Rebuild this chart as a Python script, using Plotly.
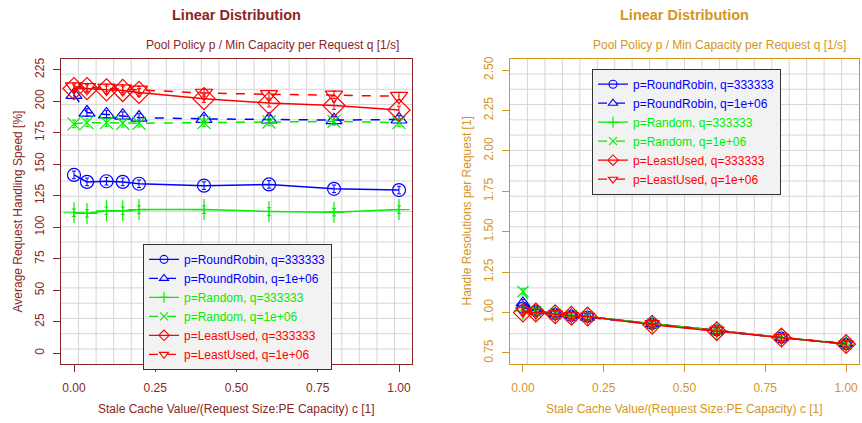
import plotly.graph_objects as go

# ---- data -------------------------------------------------------------
c_values = [0.0, 0.04, 0.1, 0.15, 0.2, 0.4, 0.6, 0.8, 1.0]

series_names = [
    "p=RoundRobin, q=333333",
    "p=RoundRobin, q=1e+06",
    "p=Random, q=333333",
    "p=Random, q=1e+06",
    "p=LeastUsed, q=333333",
    "p=LeastUsed, q=1e+06",
]

# Average request handling speed [%]
speed_rr_333333 = [141.5, 136, 136.5, 136, 134.5, 133, 134, 130.5, 129.5]
speed_rr_1e6 = [205, 191, 189.5, 188.5, 187, 186, 185.5, 185, 185.5]
speed_rand_333333 = [111.5, 111, 113, 113, 114, 114, 112.5, 112, 114]
speed_rand_1e6 = [182, 183, 183, 182.5, 182.5, 183, 183.5, 184, 183]
speed_lu_333333 = [210, 210, 209, 208.5, 207, 202, 198.5, 196.5, 193]
speed_lu_1e6 = [211.5, 211, 210.5, 210, 209, 206.5, 205.5, 205, 204]
speed_err = [3, 3, 3, 3, 3, 3, 3, 3, 3]

# Handle resolutions per request [1]
hres_rr_333333 = [1.03, 1.01, 0.99, 0.98, 0.975, 0.93, 0.89, 0.845, 0.805]
hres_rr_1e6 = [1.06, 1.01, 0.995, 0.985, 0.97, 0.93, 0.885, 0.845, 0.81]
hres_rand_333333 = [1.01, 1.0, 0.99, 0.98, 0.975, 0.93, 0.89, 0.845, 0.805]
hres_rand_1e6 = [1.13, 1.005, 0.99, 0.98, 0.975, 0.93, 0.89, 0.845, 0.805]
hres_lu_333333 = [1.0, 1.0, 0.99, 0.98, 0.975, 0.925, 0.885, 0.845, 0.805]
hres_lu_1e6 = [1.01, 1.0, 0.99, 0.98, 0.975, 0.93, 0.89, 0.845, 0.805]
hres_err = [0.02, 0.02, 0.02, 0.02, 0.02, 0.02, 0.02, 0.02, 0.02]

x_ticks = [0.0, 0.25, 0.5, 0.75, 1.0]
x_ticklabels = ["0.00", "0.25", "0.50", "0.75", "1.00"]
speed_ticks = [0, 25, 50, 75, 100, 125, 150, 175, 200, 225]
hres_ticks = [0.75, 1.0, 1.25, 1.5, 1.75, 2.0, 2.25, 2.5]
hres_ticklabels = ["0.75", "1.00", "1.25", "1.50", "1.75", "2.00", "2.25", "2.50"]

# ---- styling ----------------------------------------------------------
W, H = 862, 423
FONT = "Liberation Sans, Arial, Helvetica, sans-serif"
LEFT_COL = "#8B2525"
RIGHT_COL = "#D4961C"

styles = [
    dict(color="#0000FF", dash="solid", symbol="circle-open", size=13),
    dict(color="#0000FF", dash="dash", symbol="triangle-up-open", size=14),
    dict(color="#00EE00", dash="solid", symbol="cross-thin-open", size=15),
    dict(color="#00EE00", dash="dash", symbol="x-thin-open", size=13),
    dict(color="#FF0000", dash="solid", symbol="diamond-open", size=17),
    dict(color="#FF0000", dash="dash", symbol="triangle-down-open", size=15),
]

# plot-area boxes in pixels: (x0, x1, y0_top, y1_bottom)
box_left = (61, 412, 57, 364)
box_right = (510, 859, 57, 364)


def dom_x(b):
    return [b[0] / W, b[1] / W]


def dom_y(b):
    return [1 - b[3] / H, 1 - b[2] / H]


fig = go.Figure()

left_series = [speed_rr_333333, speed_rr_1e6, speed_rand_333333,
               speed_rand_1e6, speed_lu_333333, speed_lu_1e6]
right_series = [hres_rr_333333, hres_rr_1e6, hres_rand_333333,
                hres_rand_1e6, hres_lu_333333, hres_lu_1e6]


def add_panel(series, err, xa, ya, legend_id, scale):
    for name, ys, st in zip(series_names, series, styles):
        fig.add_trace(go.Scatter(
            x=c_values, y=ys, mode="lines+markers", xaxis=xa, yaxis=ya,
            showlegend=False,
            line=dict(color=st["color"], width=1.5, dash=st["dash"]),
            marker=dict(symbol=st["symbol"], size=st["size"] * scale,
                        color=st["color"],
                        line=dict(width=1.2, color=st["color"])),
            error_y=dict(type="data", array=err, color=st["color"],
                         thickness=1, width=2),
        ))
    # legend entries with small key symbols
    for name, st in zip(series_names, styles):
        fig.add_trace(go.Scatter(
            x=[None], y=[None], mode="lines+markers", xaxis=xa, yaxis=ya,
            name=f"<span style='color:{st['color']}'>{name}</span>",
            legend=legend_id,
            line=dict(color=st["color"], width=1.2, dash=st["dash"]),
            marker=dict(symbol=st["symbol"], size=8, color=st["color"],
                        line=dict(width=1.1, color=st["color"])),
        ))


add_panel(left_series, speed_err, "x", "y", "legend", 1.0)
add_panel(right_series, hres_err, "x2", "y2", "legend2", 0.85)


def xaxis_cfg(box, col):
    return dict(
        domain=dom_x(box), range=[-0.04, 1.04], tickvals=x_ticks,
        ticktext=x_ticklabels, ticks="outside", ticklen=7, tickcolor=col,
        tickwidth=1, showgrid=False, zeroline=False, showline=True,
        linecolor=col, linewidth=1.2, mirror=True,
        tickfont=dict(family=FONT, size=12, color=col),
        ticklabelstandoff=5,
    )


def yaxis_cfg(box, col, rng, vals, texts):
    return dict(
        domain=dom_y(box), range=rng, tickvals=vals, ticktext=texts,
        ticks="outside", ticklen=7, tickcolor=col, tickwidth=1,
        tickangle=-90, showgrid=False, zeroline=False, showline=True,
        linecolor=col, linewidth=1.2, mirror=True,
        tickfont=dict(family=FONT, size=12, color=col),
        ticklabelstandoff=4,
    )


fig.update_layout(
    width=W, height=H,
    margin=dict(l=0, r=0, t=0, b=0),
    paper_bgcolor="white", plot_bgcolor="white",
    font=dict(family=FONT, size=12),
    xaxis=xaxis_cfg(box_left, LEFT_COL),
    yaxis=yaxis_cfg(box_left, LEFT_COL, [-8.7, 233.7], speed_ticks,
                    [str(v) for v in speed_ticks]),
    xaxis2=dict(xaxis_cfg(box_right, RIGHT_COL), anchor="y2"),
    yaxis2=dict(yaxis_cfg(box_right, RIGHT_COL, [0.68, 2.57], hres_ticks,
                          hres_ticklabels), anchor="x2"),
    showlegend=True,
    legend=dict(x=143 / W, y=1 - 243 / H, xanchor="left", yanchor="top",
                bgcolor="#F2F2F2", bordercolor="#333333", borderwidth=1,
                font=dict(family=FONT, size=12), tracegroupgap=0,
                itemwidth=30),
    legend2=dict(x=592 / W, y=1 - 67 / H, xanchor="left", yanchor="top",
                 bgcolor="#F2F2F2", bordercolor="#333333", borderwidth=1,
                 font=dict(family=FONT, size=12), tracegroupgap=0,
                 itemwidth=30),
)

# light 20 x 20 background grid inside each plot area
shapes = []
for xr, yr in (("x domain", "y domain"), ("x2 domain", "y2 domain")):
    for k in range(1, 20):
        f = k / 20
        shapes.append(dict(type="line", xref=xr, yref=yr, x0=f, x1=f, y0=0,
                           y1=1, layer="below",
                           line=dict(color="#D6D6D6", width=1)))
        shapes.append(dict(type="line", xref=xr, yref=yr, x0=0, x1=1, y0=f,
                           y1=f, layer="below",
                           line=dict(color="#D6D6D6", width=1)))
fig.update_layout(shapes=shapes)

# titles and axis labels
ann = []
for box, col, ytitle in ((box_left, LEFT_COL, "Average Request Handling Speed [%]"),
                         (box_right, RIGHT_COL, "Handle Resolutions per Request [1]")):
    cx = (box[0] + box[1]) / 2 / W
    cy = 1 - (box[2] + box[3]) / 2 / H
    ann.append(dict(text="<b>Linear Distribution</b>", x=cx, y=1 - 13 / H,
                    xref="paper", yref="paper", showarrow=False,
                    xanchor="center", yanchor="middle",
                    font=dict(family=FONT, size=14.5, color=col)))
    ann.append(dict(text="Pool Policy p / Min Capacity per Request q [1/s]",
                    x=(box[1] - 11) / W, y=1 - 43 / H, xref="paper",
                    yref="paper", showarrow=False, xanchor="right",
                    yanchor="middle",
                    font=dict(family=FONT, size=12, color=col)))
    ann.append(dict(text="Stale Cache Value/(Request Size:PE Capacity) c [1]",
                    x=cx, y=1 - 409 / H, xref="paper", yref="paper",
                    showarrow=False, xanchor="center", yanchor="middle",
                    font=dict(family=FONT, size=12, color=col)))
    ann.append(dict(text=ytitle, x=(box[0] - 43) / W, y=cy, xref="paper",
                    yref="paper", showarrow=False, xanchor="center",
                    yanchor="middle", textangle=-90,
                    font=dict(family=FONT, size=12, color=col)))
fig.update_layout(annotations=ann)

fig.write_html("out.html")
